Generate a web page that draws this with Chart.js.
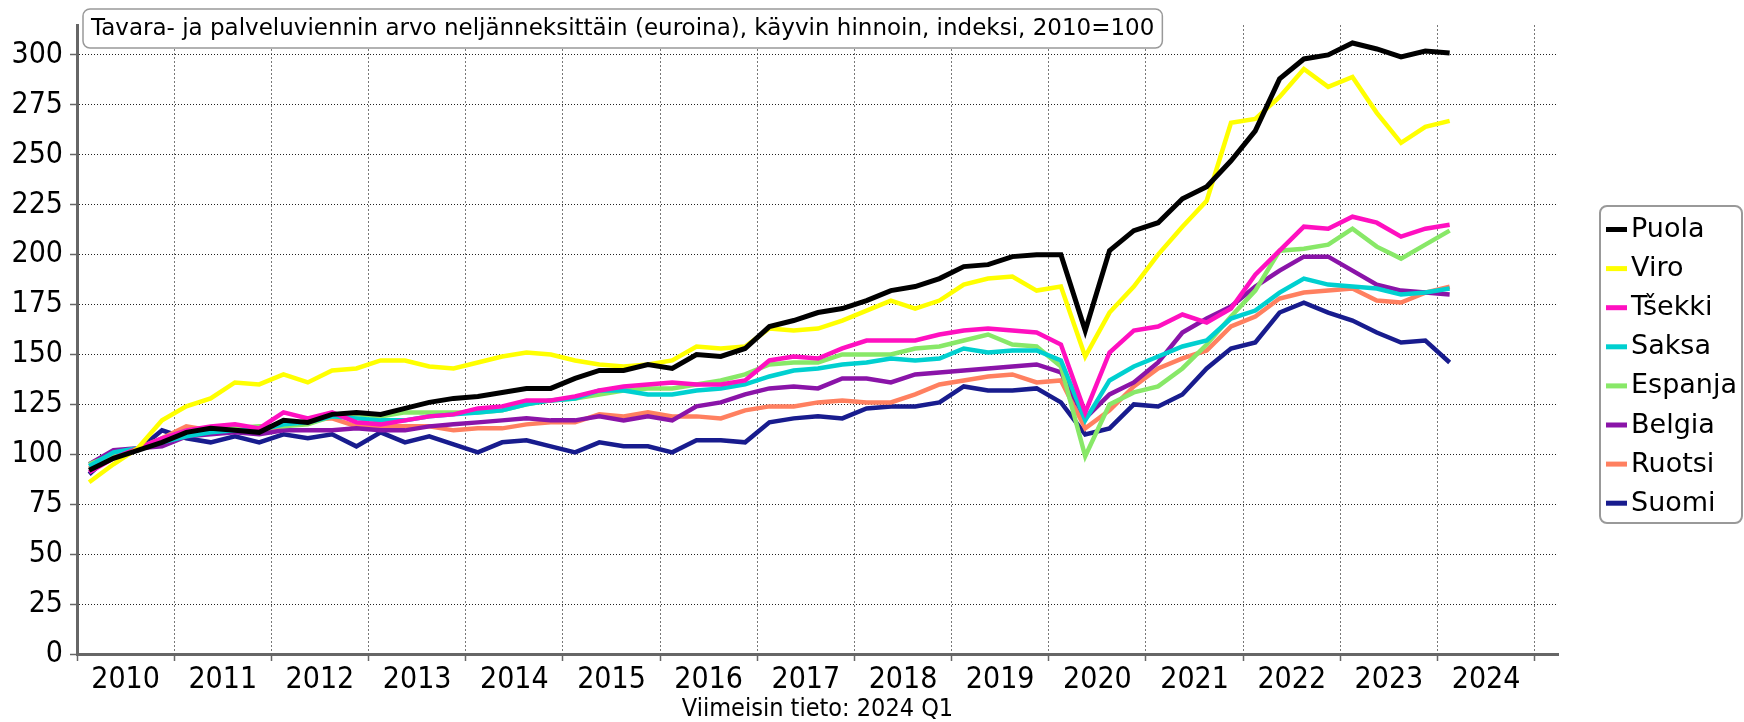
<!DOCTYPE html>
<html>
<head>
<meta charset="utf-8">
<script src="https://cdn.jsdelivr.net/npm/chart.js@4.4.1/dist/chart.umd.min.js"></script>
<style>
html, body { margin: 0; padding: 0; background: #fff; }
#wrap { width: 1744px; height: 722px; }
</style>
</head>
<body>
<div id="wrap"><canvas id="chart" width="1744" height="722"></canvas></div>
<script>
// quarterly index values, 2010 Q1 ... 2024 Q1
const years = [2010, 2011, 2012, 2013, 2014, 2015, 2016, 2017, 2018, 2019, 2020, 2021, 2022, 2023, 2024];
const yTicks = [0, 25, 50, 75, 100, 125, 150, 175, 200, 225, 250, 275, 300];
const countries = ['Puola', 'Viro', 'Tšekki', 'Saksa', 'Espanja', 'Belgia', 'Ruotsi', 'Suomi'];

const puola = [92, 98, 102, 106, 111, 113, 112, 111, 117, 116, 120, 121,
    120, 123, 126, 128, 129, 131, 133, 133, 138, 142, 142, 145,
    143, 150, 149, 153, 164, 167, 171, 173, 177, 182, 184, 188,
    194, 195, 199, 200, 200, 162, 202, 212, 216, 228, 234, 247,
    262, 288, 298, 300, 306, 303, 299, 302, 301];
const viro = [86, 95, 103, 117, 124, 128, 136, 135, 140, 136, 142, 143,
    147, 147, 144, 143, 146, 149, 151, 150, 147, 145, 144, 145,
    147, 154, 153, 154, 163, 162, 163, 167, 172, 177, 173, 177,
    185, 188, 189, 182, 184, 149, 171, 184, 200, 214, 227, 266,
    268, 279, 293, 284, 289, 271, 256, 264, 267];
const tsekki = [91, 98, 103, 108, 112, 114, 115, 113, 121, 118, 121, 116,
    115, 117, 119, 120, 123, 124, 127, 127, 129, 132, 134, 135,
    136, 135, 135, 137, 147, 149, 148, 153, 157, 157, 157, 160,
    162, 163, 162, 161, 155, 121, 151, 162, 164, 170, 166, 173,
    190, 202, 214, 213, 219, 216, 209, 213, 215];
const saksa = [94, 101, 103, 106, 109, 111, 112, 112, 115, 116, 119, 118,
    117, 117, 119, 120, 121, 122, 125, 127, 128, 132, 132, 130,
    130, 132, 133, 135, 139, 142, 143, 145, 146, 148, 147, 148,
    153, 151, 152, 152, 147, 117, 137, 144, 149, 154, 157, 168,
    172, 181, 188, 185, 184, 183, 180, 181, 183];
const espanja = [95, 100, 102, 108, 112, 113, 113, 114, 114, 115, 119, 120,
    119, 121, 121, 121, 121, 122, 125, 127, 128, 130, 132, 133,
    133, 135, 137, 140, 145, 146, 146, 150, 150, 150, 153, 154,
    157, 160, 155, 154, 144, 99, 125, 131, 134, 143, 155, 169,
    182, 202, 203, 205, 213, 204, 198, 205, 212];
const belgia = [95, 102, 103, 104, 109, 110, 111, 110, 112, 112, 112, 113,
    112, 112, 114, 115, 116, 117, 118, 117, 117, 119, 117, 119,
    117, 124, 126, 130, 133, 134, 133, 138, 138, 136, 140, 141,
    142, 143, 144, 145, 141, 118, 130, 136, 146, 161, 168, 174,
    184, 192, 199, 199, 192, 185, 182, 181, 180];
const ruotsi = [93, 99, 103, 108, 114, 112, 112, 111, 114, 117, 118, 114,
    114, 114, 114, 112, 113, 113, 115, 116, 116, 120, 119, 121,
    119, 119, 118, 122, 124, 124, 126, 127, 126, 126, 130, 135,
    137, 139, 140, 136, 137, 113, 122, 134, 143, 148, 152, 164,
    169, 178, 181, 182, 183, 177, 176, 181, 184];
const suomi = [90, 101, 102, 112, 108, 106, 109, 106, 110, 108, 110, 104,
    111, 106, 109, 105, 101, 106, 107, 104, 101, 106, 104, 104,
    101, 107, 107, 106, 116, 118, 119, 118, 123, 124, 124, 126,
    134, 132, 132, 133, 126, 110, 113, 125, 124, 130, 143, 153,
    156, 171, 176, 171, 167, 161, 156, 157, 146];

const seriesValues = [puola, viro, tsekki, saksa, espanja, belgia, ruotsi, suomi];
const colors = ['#000000', '#ffff00', '#ff10c0', '#00d0d0', '#88e868', '#8a14a8', '#ff8060', '#181c8e'];

const titleText = 'Tavara- ja palveluviennin arvo neljänneksittäin (euroina), käyvin hinnoin, indeksi, 2010=100';
const footText = 'Viimeisin tieto: 2024 Q1';

// x position of each quarter = middle of the quarter
const quarterX = [];
years.forEach(y => {
    for (let q = 1; q <= 4; q++) quarterX.push(y + (q - 0.5) / 4);
});

const tickFont = { family: "'DejaVu Sans Condensed', 'DejaVu Sans'", size: 30 };

const boxesPlugin = {
    id: 'boxes',
    afterDraw(chart) {
        const ctx = chart.ctx;
        const area = chart.chartArea;
        ctx.save();

        // title box inside the plot
        ctx.font = "23px 'DejaVu Sans'";
        const tw = ctx.measureText(titleText).width;
        ctx.beginPath();
        ctx.roundRect(area.left + 6, 9, tw + 16, 39, 7);
        ctx.fillStyle = '#fff';
        ctx.fill();
        ctx.strokeStyle = '#999';
        ctx.lineWidth = 1.5;
        ctx.stroke();
        ctx.fillStyle = '#000';
        ctx.textBaseline = 'middle';
        ctx.fillText(titleText, area.left + 14, 29);

        // legend
        ctx.beginPath();
        ctx.roundRect(1600, 206, 142, 317, 7);
        ctx.strokeStyle = '#999';
        ctx.lineWidth = 2;
        ctx.stroke();
        ctx.font = "27px 'DejaVu Sans'";
        chart.data.datasets.forEach((ds, i) => {
            const y = 229 + i * 39.1;
            ctx.fillStyle = ds.borderColor;
            ctx.fillRect(1606, y - 2, 21, 5);
            ctx.fillStyle = '#000';
            ctx.fillText(ds.label, 1631, y + 1);
        });

        // footnote
        ctx.font = "25px 'DejaVu Sans Condensed', 'DejaVu Sans'";
        ctx.textAlign = 'center';
        ctx.fillText(footText, (area.left + area.right) / 2, 709);
        ctx.restore();
    }
};

const ctx = document.getElementById('chart').getContext('2d');
new Chart(ctx, {
    type: 'line',
    data: {
        datasets: countries.map((name, k) => ({
            label: name,
            data: seriesValues[k].map((v, i) => ({ x: quarterX[i], y: v })),
            borderColor: colors[k],
            backgroundColor: colors[k],
            borderWidth: k === 0 ? 5 : 4.5,
            pointRadius: 0,
            tension: 0,
            fill: false
        }))
    },
    options: {
        responsive: false,
        animation: false,
        layout: { padding: { top: 7, right: 186, left: 0, bottom: 0 } },
        plugins: {
            legend: { display: false },
            tooltip: { enabled: false }
        },
        scales: {
            x: {
                type: 'linear',
                min: 2010,
                max: 2025.24,
                afterBuildTicks: axis => {
                    axis.ticks = years.concat([2025]).map(v => ({ value: v }));
                },
                afterFit: scale => { scale.height = 68; },
                ticks: {
                    autoSkip: false,
                    maxRotation: 0,
                    labelOffset: 48.6,
                    padding: 1,
                    color: '#000',
                    font: tickFont,
                    callback: v => (v < 2025 ? String(v) : '')
                },
                grid: {
                    color: '#777',
                    tickLength: 7,
                    tickColor: '#666',
                    tickBorderDash: [],
                    tickWidth: 1.5
                },
                border: { color: '#666', width: 3, dash: [2, 2] }
            },
            y: {
                min: 0,
                max: 315,
                afterBuildTicks: axis => {
                    axis.ticks = yTicks.map(v => ({ value: v }));
                },
                afterFit: scale => { scale.width = 77; },
                ticks: {
                    padding: 7,
                    color: '#000',
                    font: tickFont
                },
                grid: {
                    color: '#222',
                    tickLength: 7,
                    tickColor: '#666',
                    tickBorderDash: [],
                    tickWidth: 1.5
                },
                border: { color: '#666', width: 3, dash: [1, 2] }
            }
        }
    },
    plugins: [boxesPlugin]
});
</script>
</body>
</html>
